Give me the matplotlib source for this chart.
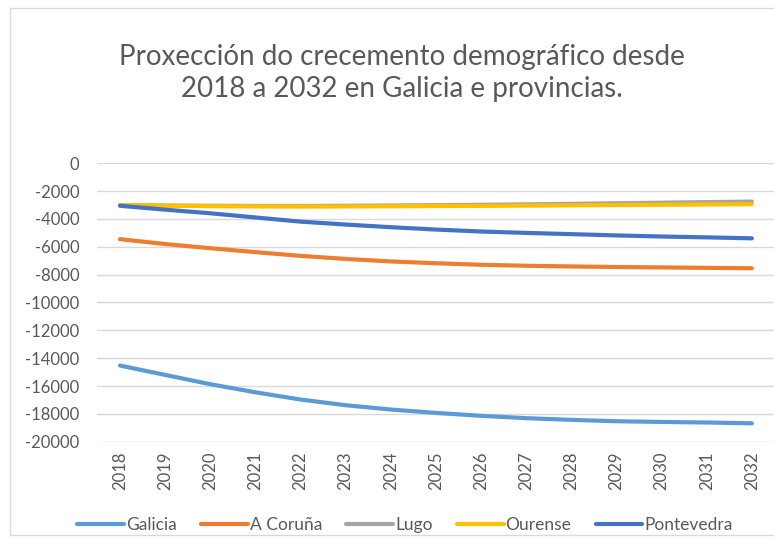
import matplotlib
matplotlib.use("Agg")
import matplotlib.pyplot as plt
from matplotlib.patches import Rectangle

years = [str(y) for y in range(2018, 2033)]
galicia = [-14530, -15200, -15870, -16450, -16970, -17380, -17690, -17930,
           -18140, -18310, -18430, -18530, -18580, -18620, -18680]
coruna = [-5450, -5800, -6100, -6380, -6650, -6870, -7050, -7180,
          -7290, -7360, -7410, -7450, -7480, -7510, -7540]
lugo = [-3000, -3030, -3050, -3060, -3060, -3050, -3030, -3010,
        -2980, -2950, -2910, -2870, -2830, -2790, -2750]
ourense = [-3000, -3050, -3080, -3100, -3110, -3100, -3090, -3070,
           -3060, -3040, -3020, -3000, -2980, -2960, -2940]
pontevedra = [-3050, -3330, -3590, -3890, -4190, -4400, -4590, -4760,
              -4900, -5000, -5090, -5180, -5260, -5320, -5390]
y_ticks = list(range(-20000, 1, 2000))

series = [
    ("Galicia", galicia, "#5B9BD5"),
    ("A Coruña", coruna, "#ED7D31"),
    ("Lugo", lugo, "#A5A5A5"),
    ("Ourense", ourense, "#FFC000"),
    ("Pontevedra", pontevedra, "#4472C4"),
]

TEXT_GREY = "#595959"
plt.rcParams["font.family"] = ["Lato", "DejaVu Sans"]

W, H = 774, 545
fig = plt.figure(figsize=(W / 100, H / 100), dpi=100)

# marco do gráfico
fig.patches.append(Rectangle((10 / W, 10 / H), 1.0, (H - 18) / H,
                             transform=fig.transFigure, fill=False,
                             edgecolor="#d9d9d9", linewidth=1))

ax = fig.add_axes([97.4 / W, 1 - 441.7 / H, 677 / W, (441.7 - 163.3) / H])

x = list(range(len(years)))
for name, vals, color in series:
    ax.plot(x, vals, color=color, linewidth=3, label=name,
            solid_capstyle="round")

ax.set_xlim(-0.5, len(years) - 0.5)
ax.set_ylim(-20000, 0)
ax.set_yticks(y_ticks)
ax.set_yticklabels([str(v) for v in y_ticks])
ax.set_xticks(x)
ax.set_xticklabels(years, rotation=90)
ax.tick_params(axis="both", length=0, colors=TEXT_GREY, labelsize=12)
ax.tick_params(axis="y", pad=13)
ax.tick_params(axis="x", pad=7)
ax.grid(axis="y", color="#d9d9d9", linewidth=1)
ax.set_axisbelow(True)
for s in ax.spines.values():
    s.set_visible(False)

fig.text(402 / W, 1 - 73 / H,
         "Proxección do crecemento demográfico desde\n2018 a 2032 en Galicia e provincias.",
         ha="center", va="center", fontsize=20, color=TEXT_GREY,
         linespacing=1.32)

fig.legend(loc="center", bbox_to_anchor=(405 / W, 1 - 525 / H), ncol=5,
           frameon=False, fontsize=12.5, labelcolor=TEXT_GREY,
           handlelength=2.7, handletextpad=0.1, columnspacing=1.4)

fig.savefig("out.png", dpi=100)
